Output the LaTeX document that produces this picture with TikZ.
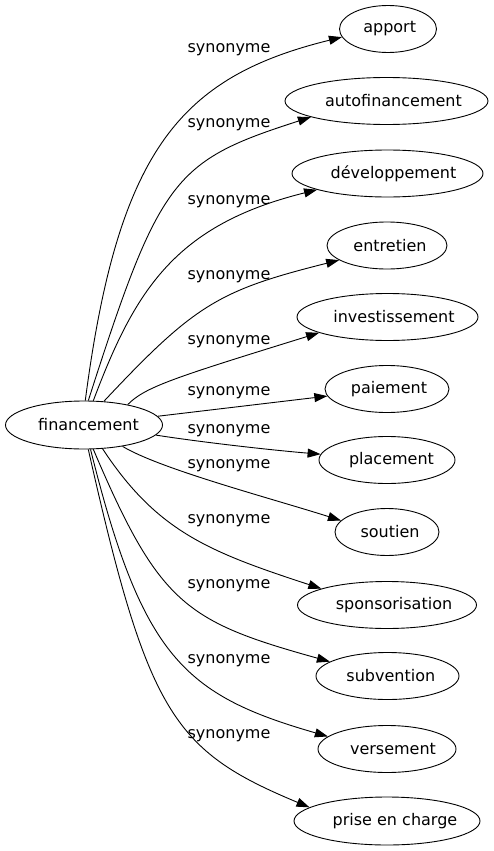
\documentclass[tikz,border=0pt]{standalone}
\usepackage{fontspec}
\setmainfont{DejaVu Sans}
\usetikzlibrary{shapes.geometric,arrows.meta}
\newcommand\shtxt[2]{\kern#1pt#2\kern-#1pt}
\begin{document}
\begin{tikzpicture}[x=1pt,y=-1pt,
  word/.style={draw, ellipse, line width=0.9pt, inner sep=1pt, minimum height=47pt, font=\fontsize{16}{19}\selectfont},
  rel/.style={font=\fontsize{16}{19}\selectfont, inner sep=0pt},
  syn/.style={draw, line width=0.9pt, -{Triangle[length=13pt,width=9pt]}}]
\useasboundingbox (0,0) rectangle (493,851);
\node[word, minimum width=157pt, minimum height=48pt] (fin) at (84,425) {\shtxt{4.5}{financement}};
\node[word, minimum width=97pt] (apport) at (388,29) {\shtxt{1.7}{apport}};
\node[word, minimum width=203pt] (autofin) at (386.5,101) {\shtxt{7}{autofinancement}};
\node[word, minimum width=191pt] (dev) at (387.5,173.5) {\shtxt{6}{développement}};
\node[word, minimum width=120pt] (entretien) at (387,245.5) {\shtxt{3}{entretien}};
\node[word, minimum width=181pt] (invest) at (387.5,317) {\shtxt{6.5}{investissement}};
\node[word, minimum width=124pt] (paiement) at (387,389) {\shtxt{2}{paiement}};
\node[word, minimum width=136pt] (placement) at (387,460) {\shtxt{4.5}{placement}};
\node[word, minimum width=104pt] (soutien) at (387,532) {\shtxt{3}{soutien}};
\node[word, minimum width=179pt] (sponso) at (387,605) {\shtxt{7}{sponsorisation}};
\node[word, minimum width=143pt] (subv) at (387.5,676) {\shtxt{3.3}{subvention}};
\node[word, minimum width=138pt] (versement) at (387,749) {\shtxt{6}{versement}};
\node[word, minimum width=186pt, minimum height=48pt] (prise) at (387,821) {\shtxt{8}{prise en charge}};

\draw[syn] (fin.87.6) .. controls (118,150) and (180,77) .. (apport.190);
\draw[syn] (fin.80.5) .. controls (160,177) and (174,161) .. (autofin.192.1);
\draw[syn] (fin.69.3) .. controls (135,290) and (175,225) .. (dev.193.6);
\draw[syn] (fin.50.8) .. controls (194.8,304.5) and (218.4,290.4) .. (entretien.197.1);
\draw[syn] (fin.25) .. controls (145,387) and (173,378) .. (invest.193.6);
\draw[syn] (fin) -- (paiement);
\draw[syn] (fin.-8.4) .. controls (200,442) and (270,450) .. (placement.175.7);
\draw[syn] (fin.-29.8) .. controls (160,469) and (270,498) .. (soutien.166.6);
\draw[syn] (fin.-52.4) .. controls (157,531.5) and (208.7,551.8) .. (sponso.166);
\draw[syn] (fin.-69.3) .. controls (159.3,604.4) and (185.6,621.5) .. (subv.166.3);
\draw[syn] (fin.-75.9) .. controls (142.2,656.6) and (183.7,695) .. (versement.168.6);
\draw[syn] (fin.-80.5) .. controls (148,714.7) and (173.6,750.7) .. (prise.170.6);

\node[rel] (l0) at (229,50) {synonyme};
\node[rel] (l1) at (229,125) {synonyme};
\node[rel] (l2) at (229,202) {synonyme};
\node[rel] (l3) at (229,277) {synonyme};
\node[rel] (l4) at (229,342) {synonyme};
\node[rel] (l5) at (229,393) {synonyme};
\node[rel] (l6) at (229,431) {synonyme};
\node[rel] (l7) at (229,466) {synonyme};
\node[rel] (l8) at (229,521) {synonyme};
\node[rel] (l9) at (229,586) {synonyme};
\node[rel] (l10) at (229,661) {synonyme};
\node[rel] (l11) at (229,736) {synonyme};
\end{tikzpicture}
\end{document}
